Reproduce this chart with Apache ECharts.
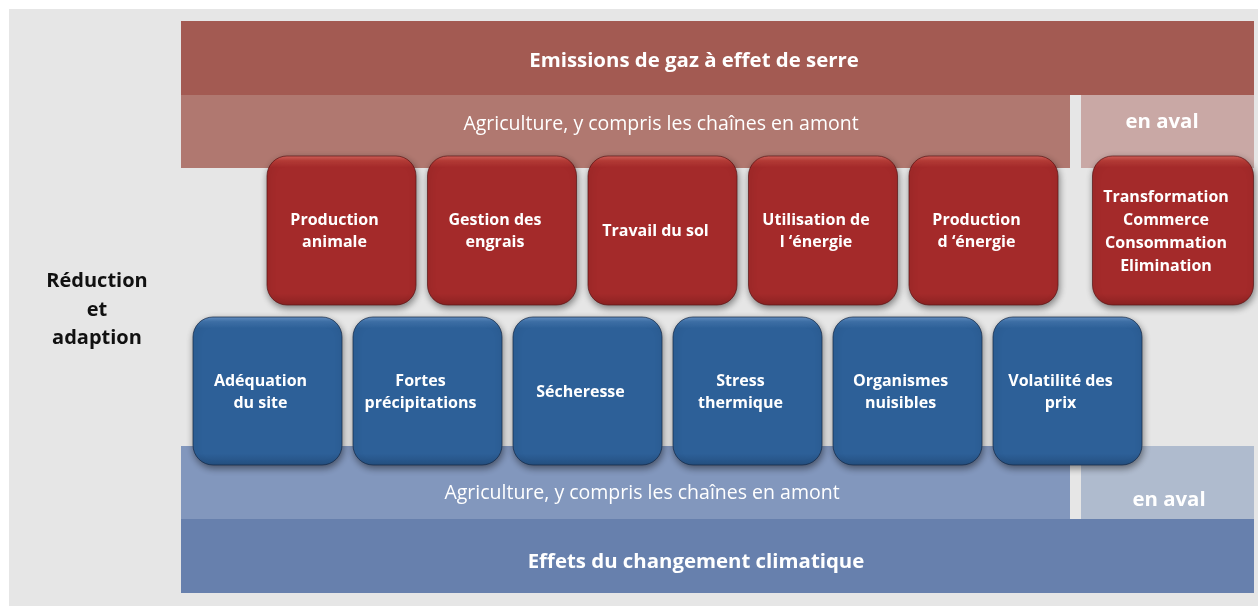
<!DOCTYPE html>
<html>
<head>
<meta charset="utf-8">
<script src="https://cdn.jsdelivr.net/npm/echarts@6/dist/echarts.min.js"></script>
<style>
  html, body { margin: 0; padding: 0; background: #fff; }
  #chart { width: 1258px; height: 606px; }
</style>
</head>
<body>
<div id="chart"></div>
<script>
// labels of the diagram
const redBoxes = [
  "Production\nanimale",
  "Gestion des\nengrais",
  "Travail du sol",
  "Utilisation de\nl \u2018énergie",
  "Production\nd \u2018énergie",
  "Transformation\nCommerce\nConsommation\nElimination",
];
const blueBoxes = [
  "Adéquation\ndu site",
  "Fortes\nprécipitations",
  "Sécheresse",
  "Stress\nthermique",
  "Organismes\nnuisibles",
  "Volatilité des\nprix",
];
const bandLabels = [
  "",
  "Emissions de gaz à effet de serre",
  "Agriculture, y compris les chaînes en amont",
  "en aval",
  "Agriculture, y compris les chaînes en amont",
  "en aval",
  "Effets du changement climatique",
];
const sideLabel = ["Réduction\net\nadaption"];

// layout (pixel units of the hidden axes)
const bandLayout = [
  { x0: 9, x1: 1258, y0: 9, y1: 606, color: "#e6e6e6", tx: 0, ty: 0 },
  { x0: 181, x1: 1254, y0: 21, y1: 95, color: "#a35a52", tx: 694, ty: 60, bold: true },
  { x0: 181, x1: 1070, y0: 95, y1: 168, color: "#b07870", tx: 661, ty: 123 },
  { x0: 1081, x1: 1254, y0: 95, y1: 168, color: "#c9a8a5", tx: 1162, ty: 121, bold: true },
  { x0: 181, x1: 1070, y0: 446, y1: 519, color: "#8297bd", tx: 642, ty: 492 },
  { x0: 1081, x1: 1254, y0: 446, y1: 519, color: "#afbbce", tx: 1169, ty: 499, bold: true },
  { x0: 181, x1: 1254, y0: 519, y1: 593, color: "#6780ad", tx: 696, ty: 561, bold: true },
];
const redRow = { x: 267, step: 160.5, w: 149, y0: 156, y1: 305, downstreamShift: 23, lastExtraW: 12 };
const blueRow = { x: 193, step: 160, w: 149, y0: 317, y1: 465 };

const FONT = "'Open Sans', Roboto, sans-serif";

const chart = echarts.init(document.getElementById("chart"));

function gloss(top, light, main, bottom) {
  return new echarts.graphic.LinearGradient(0, 0, 0, 1, [
    { offset: 0, color: top },
    { offset: 0.035, color: light },
    { offset: 0.08, color: main },
    { offset: 0.92, color: main },
    { offset: 1, color: bottom },
  ]);
}

function boxItem(api, x0, x1, y0, y1, label, fillGrad, stroke) {
  const p0 = api.coord([x0, y0]);
  const p1 = api.coord([x1, y1]);
  const n = label.split("\n").length;
  return {
    type: "group",
    children: [
      {
        type: "rect",
        shape: { x: p0[0], y: p0[1], width: p1[0] - p0[0], height: p1[1] - p0[1], r: 20 },
        style: {
          fill: fillGrad,
          stroke: stroke,
          lineWidth: 1,
          shadowBlur: 7,
          shadowOffsetX: 1,
          shadowOffsetY: 3,
          shadowColor: "rgba(0,0,0,0.45)",
        },
      },
      {
        type: "text",
        style: {
          text: label,
          x: (p0[0] + p1[0]) / 2 - 7,
          y: (p0[1] + p1[1]) / 2 + 1,
          align: "center",
          verticalAlign: "middle",
          fill: "#fff",
          fontFamily: FONT,
          fontWeight: "bold",
          fontSize: 16,
          lineHeight: n > 2 ? 23 : 22,
        },
      },
    ],
  };
}

const option = {
  backgroundColor: "#ffffff",
  animation: false,
  grid: { left: 0, right: 0, top: 0, bottom: 0 },
  xAxis: { type: "value", min: 0, max: 1258, show: false },
  yAxis: { type: "value", min: 0, max: 606, inverse: true, show: false },
  series: [
    {
      type: "custom",
      name: "bands",
      data: bandLabels.map((t, i) => [i]),
      renderItem: function (params, api) {
        const i = params.dataIndex;
        const b = bandLayout[i];
        const p0 = api.coord([b.x0, b.y0]);
        const p1 = api.coord([b.x1, b.y1]);
        const children = [
          {
            type: "rect",
            shape: { x: p0[0], y: p0[1], width: p1[0] - p0[0], height: p1[1] - p0[1] },
            style: { fill: b.color },
          },
        ];
        if (bandLabels[i]) {
          const tp = api.coord([b.tx, b.ty]);
          children.push({
            type: "text",
            style: {
              text: bandLabels[i],
              x: tp[0],
              y: tp[1] + 1,
              align: "center",
              verticalAlign: "middle",
              fill: "#fff",
              fontFamily: FONT,
              fontWeight: b.bold ? "bold" : "normal",
              fontSize: b.bold ? 20.4 : 19.5,
            },
          });
        }
        return { type: "group", children: children };
      },
    },
    {
      type: "custom",
      name: "side",
      data: sideLabel.map((t, i) => [i]),
      renderItem: function (params, api) {
        const p = api.coord([97, 310]);
        return {
          type: "text",
          style: {
            text: sideLabel[params.dataIndex],
            x: p[0],
            y: p[1],
            align: "center",
            verticalAlign: "middle",
            fill: "#111",
            fontFamily: FONT,
            fontWeight: "bold",
            fontSize: 20,
            lineHeight: 28.5,
          },
        };
      },
    },
    {
      type: "custom",
      name: "emissions",
      data: redBoxes.map((t, i) => [i]),
      renderItem: function (params, api) {
        const i = params.dataIndex;
        const last = i === redBoxes.length - 1;
        const x0 = redRow.x + i * redRow.step + (last ? redRow.downstreamShift : 0);
        const x1 = x0 + redRow.w + (last ? redRow.lastExtraW : 0);
        return boxItem(api, x0, x1, redRow.y0, redRow.y1, redBoxes[i],
          gloss("#d8665f", "#b83c37", "#a42a2a", "#8c2222"), "rgba(90,20,20,0.7)");
      },
    },
    {
      type: "custom",
      name: "effets",
      data: blueBoxes.map((t, i) => [i]),
      renderItem: function (params, api) {
        const i = params.dataIndex;
        const x0 = blueRow.x + i * blueRow.step;
        return boxItem(api, x0, x0 + blueRow.w, blueRow.y0, blueRow.y1, blueBoxes[i],
          gloss("#6894c8", "#3f72aa", "#2d6098", "#244f80"), "rgba(20,40,70,0.7)");
      },
    },
  ],
};

chart.setOption(option);
</script>
</body>
</html>
